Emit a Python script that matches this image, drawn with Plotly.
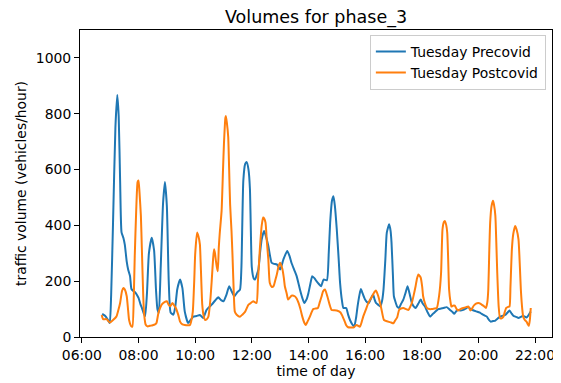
import plotly.graph_objects as go

DAY = "2020-01-07 "

pre_times = ["06:43","06:49","06:55","06:59","07:02","07:06","07:11","07:15","07:18","07:21","07:24","07:28","07:31","07:35","07:38","07:42","07:45","07:49","07:53","07:57","08:00","08:04","08:07","08:11","08:14","08:18","08:22","08:28","08:33","08:37","08:40","08:43","08:47","08:52","08:56","09:00","09:04","09:08","09:14","09:18","09:22","09:28","09:33","09:38","09:45","09:50","09:56","10:03","10:10","10:17","10:24","10:30","10:35","10:42","10:49","10:55","11:00","11:06","11:12","11:17","11:23","11:29","11:35","11:38","11:42","11:46","11:49","11:53","11:56","11:58","12:00","12:04","12:07","12:10","12:14","12:18","12:21","12:26","12:30","12:35","12:42","12:47","12:53","13:00","13:07","13:15","13:20","13:24","13:30","13:35","13:42","13:47","13:51","13:56","14:00","14:04","14:08","14:13","14:17","14:22","14:27","14:32","14:39","14:43","14:46","14:50","14:53","14:56","15:00","15:04","15:07","15:11","15:14","15:20","15:24","15:28","15:33","15:37","15:41","15:44","15:48","15:51","15:55","16:00","16:04","16:08","16:13","16:17","16:20","16:23","16:28","16:32","16:36","16:39","16:43","16:46","16:51","16:54","16:56","16:59","17:01","17:04","17:08","17:12","17:16","17:21","17:26","17:30","17:35","17:39","17:43","17:47","17:53","17:58","18:02","18:07","18:12","18:18","18:23","18:27","18:35","18:41","18:46","18:53","19:00","19:05","19:09","19:13","19:17","19:22","19:28","19:34","19:39","19:44","19:50","19:57","20:02","20:07","20:12","20:18","20:22","20:26","20:31","20:36","20:41","20:46","20:52","20:57","21:02","21:06","21:10","21:14","21:20","21:25","21:30","21:35","21:38","21:42","21:47","21:51"]
pre_values = [83,76,62,50,150,411,750,867,790,560,375,355,330,270,242,218,172,165,160,150,140,118,105,85,75,160,300,356,310,170,100,86,250,480,555,470,200,88,80,110,170,206,175,91,50,60,73,75,79,68,97,108,116,130,142,132,128,150,182,165,146,160,170,250,560,620,627,600,531,380,250,210,206,220,242,310,350,380,360,326,266,262,260,242,278,308,290,266,240,218,170,140,122,135,158,190,218,210,200,190,182,206,203,300,410,490,504,470,386,280,194,130,104,104,80,61,45,37,70,109,150,172,155,134,125,122,140,152,135,122,115,109,130,170,280,374,404,380,338,220,146,128,109,104,118,134,160,182,150,122,110,104,120,134,120,109,90,73,82,88,100,102,104,107,97,90,83,92,97,95,97,103,107,100,95,91,88,83,78,73,62,55,57,59,66,73,76,79,88,95,85,76,72,68,72,76,73,70,80,91]

post_times = ["06:42","06:45","06:52","06:59","07:06","07:13","07:17","07:21","07:25","07:28","07:31","07:35","07:38","07:40","07:44","07:47","07:50","07:52","07:55","07:58","08:00","08:02","08:05","08:07","08:10","08:12","08:15","08:19","08:24","08:30","08:35","08:38","08:42","08:46","08:49","08:55","09:00","09:04","09:07","09:12","09:16","09:19","09:24","09:28","09:33","09:38","09:44","09:49","09:52","09:55","09:58","10:00","10:04","10:07","10:10","10:12","10:15","10:18","10:21","10:24","10:28","10:32","10:35","10:38","10:40","10:42","10:44","10:46","10:48","10:50","10:52","10:56","10:59","11:01","11:04","11:05","11:07","11:10","11:12","11:14","11:17","11:19","11:22","11:24","11:28","11:35","11:40","11:46","11:53","11:58","12:03","12:10","12:13","12:17","12:21","12:24","12:26","12:29","12:32","12:35","12:38","12:42","12:46","12:50","12:53","12:57","13:00","13:05","13:08","13:10","13:14","13:17","13:24","13:31","13:35","13:39","13:43","13:47","13:51","13:54","13:58","14:03","14:07","14:10","14:15","14:20","14:24","14:28","14:31","14:35","14:40","14:45","14:49","14:55","15:00","15:08","15:12","15:17","15:20","15:24","15:30","15:35","15:42","15:49","15:53","15:56","16:02","16:07","16:11","16:15","16:20","16:23","16:25","16:28","16:32","16:35","16:40","16:49","16:55","17:00","17:04","17:08","17:12","17:16","17:21","17:27","17:32","17:36","17:39","17:43","17:47","17:50","17:53","17:56","17:58","18:01","18:03","18:07","18:11","18:16","18:21","18:27","18:32","18:37","18:41","18:44","18:47","18:49","18:52","18:54","18:56","18:58","19:01","19:03","19:06","19:10","19:14","19:17","19:22","19:28","19:34","19:39","19:43","19:46","19:50","19:55","20:00","20:04","20:07","20:12","20:16","20:19","20:21","20:23","20:25","20:28","20:31","20:33","20:36","20:38","20:40","20:43","20:46","20:50","20:53","20:56","20:59","21:03","21:06","21:08","21:11","21:14","21:18","21:21","21:25","21:28","21:30","21:33","21:35","21:38","21:42","21:45","21:47","21:49","21:51"]
post_values = [79,64,64,52,61,73,95,122,165,176,170,146,95,61,40,37,150,290,450,555,561,520,434,320,146,80,45,38,40,42,45,50,85,105,116,125,128,115,110,122,112,104,80,55,45,43,42,43,60,91,200,296,374,360,332,250,116,75,61,63,73,130,200,280,314,300,272,250,236,320,370,452,600,693,785,792,770,717,600,476,380,296,150,91,80,73,80,91,116,122,128,122,200,314,400,428,425,410,340,278,194,180,182,205,224,255,266,242,210,182,155,134,148,146,138,122,100,73,52,43,55,73,90,100,102,104,125,146,164,170,146,115,97,96,95,88,75,55,42,35,34,34,43,37,55,73,100,122,135,146,162,167,160,146,120,97,61,55,52,49,60,70,97,102,104,100,97,110,122,150,182,210,224,218,212,180,146,120,104,100,100,102,104,150,230,386,412,416,400,374,280,170,125,109,112,112,100,95,100,104,107,109,95,100,112,120,122,120,116,110,104,125,170,300,410,470,488,475,434,340,230,110,67,68,73,90,104,108,109,180,314,370,398,385,350,250,170,100,73,62,55,45,40,60,104]

tick_labels = ["06:00","08:00","10:00","12:00","14:00","16:00","18:00","20:00","22:00"]
y_ticks = [0, 200, 400, 600, 800, 1000]

FONT = "DejaVu Sans"
# the page body keeps its default 8px margin, so the figure is drawn 8px smaller
W, H, OFF = 561 - 8, 383 - 8, 8

fig = go.Figure()
fig.add_trace(go.Scatter(
    x=[DAY + t for t in pre_times], y=pre_values, mode="lines",
    name="Tuesday Precovid",
    line=dict(color="#1f77b4", width=2, shape="spline", smoothing=0.5)))
fig.add_trace(go.Scatter(
    x=[DAY + t for t in post_times], y=post_values, mode="lines",
    name="Tuesday Postcovid",
    line=dict(color="#ff7f0e", width=2, shape="spline", smoothing=0.5)))

axis_common = dict(showline=True, mirror=True, linecolor="black", linewidth=1,
                   ticks="outside", ticklen=5, tickcolor="black", tickwidth=1,
                   showgrid=False, zeroline=False, automargin=False,
                   tickfont=dict(family=FONT, size=13.9, color="black"))

fig.update_xaxes(type="date", range=[DAY + "05:56", DAY + "22:36"],
                 tickvals=[DAY + t for t in tick_labels], ticktext=tick_labels,
                 title=dict(text="time of day", font=dict(family=FONT, size=13.9, color="black"), standoff=4),
                 **axis_common)
fig.update_yaxes(range=[0, 1100], tickvals=y_ticks,
                 title=dict(text="traffic volume (vehicles/hour)", font=dict(family=FONT, size=13.9, color="black"), standoff=5),
                 **axis_common)

fig.update_layout(
    width=W, height=H,
    margin=dict(l=80 - OFF, r=9, t=30 - OFF, b=46),
    paper_bgcolor="white", plot_bgcolor="white",
    title=dict(text="Volumes for phase_3", x=(316 - OFF) / W, xanchor="center",
               y=1 - (17 - OFF) / H, yanchor="middle", yref="container",
               font=dict(family=FONT, size=17.5, color="black")),
    legend=dict(x=0.987, y=0.984, xanchor="right", yanchor="top",
                bgcolor="rgba(255,255,255,0.8)", bordercolor="#cccccc", borderwidth=1,
                font=dict(family=FONT, size=13.9, color="black"), itemwidth=30),
    showlegend=True,
)

fig.write_html("out.html")
